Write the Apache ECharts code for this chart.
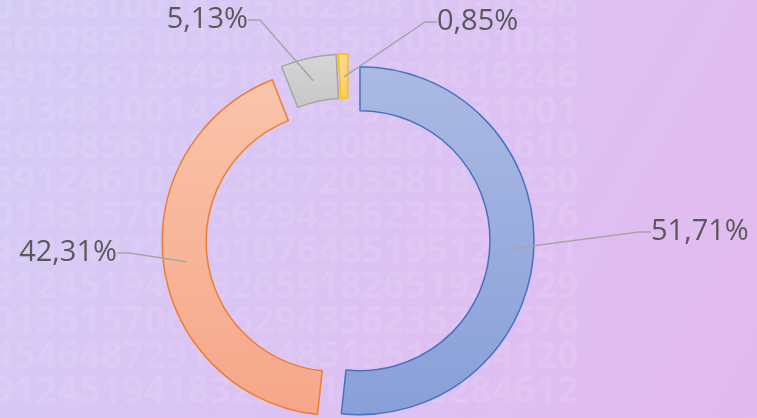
<!DOCTYPE html>
<html>
<head>
<meta charset="utf-8">
<script src="https://cdn.jsdelivr.net/npm/echarts@6/dist/echarts.min.js"></script>
<style>
  html, body { margin: 0; padding: 0; }
  #chart { width: 757px; height: 418px; }
</style>
</head>
<body>
<div id="chart"></div>
<script>
// slice shares, clockwise from 12 o'clock
const names = ["Série A", "Série B", "Série C", "Série D"];
const shares = [51.71, 42.31, 5.13, 0.85];
const fills = [
  ["#abbae3", "#889fd8"],
  ["#f9c4ab", "#f6a688"],
  ["#d6d6d6", "#c6c6c6"],
  ["#ffdc92", "#ffcd66"]
];
const borders = ["#4472c4", "#ed7d31", "#a5a5a5", "#ffc000"];
// where each percentage label sits: [x, y, align]
const labelPos = [
  [651, 232, "left"],
  [117, 253, "right"],
  [248, 20, "right"],
  [437, 22, "left"]
];

// faint digit texture behind the chart
const digitRows = [
  "013481001412586234810138596",
  "560385610356103856103561083",
  "591246128491824691824619246",
  "013481001414238659784531001",
  "560385610561385608561035610",
  "591246107023857203581835230",
  "013515702356294356235239576",
  "454648729101076485195120841",
  "912451941832659182651926129",
  "013515706356294356235239576",
  "454648729107648519512084120",
  "912451941832846129846284612"
];

const chart = echarts.init(document.getElementById("chart"));

const fmt = (v) => v.toFixed(2).replace(".", ",") + "%";

const pieBase = {
  type: "pie",
  center: [348, 240],
  startAngle: 90,
  clockwise: true,
  avoidLabelOverlap: false,
  emphasis: { disabled: true }
};

chart.setOption({
  backgroundColor: new echarts.graphic.LinearGradient(0, 0, 1, 1, [
    { offset: 0, color: "#d4ccf6" },
    { offset: 1, color: "#e3b9ef" }
  ]),
  animation: false,
  graphic: digitRows.map((row, i) => ({
    type: "text",
    left: -8,
    top: i * 35 - 12,
    silent: true,
    z: -10,
    style: {
      text: row,
      font: "bold 38px 'Open Sans'",
      fill: "rgba(255,255,255,0.10)"
    }
  })),
  series: [
    {
      ...pieBase,
      radius: [130, 174],
      selectedMode: "multiple",
      selectedOffset: 12,
      label: { show: false },
      labelLine: { show: false },
      data: shares.map((v, i) => ({
        name: names[i],
        value: v,
        selected: true,
        itemStyle: {
          color: new echarts.graphic.LinearGradient(0, 0, 0, 1, [
            { offset: 0, color: fills[i][0] },
            { offset: 1, color: fills[i][1] }
          ]),
          borderColor: borders[i],
          borderWidth: 1.5
        }
      }))
    },
    {
      // invisible ring reaching the middle of the exploded band, only for the labels
      ...pieBase,
      radius: [130, 163],
      silent: true,
      z: 5,
      itemStyle: { color: "transparent", borderWidth: 0 },
      data: shares.map((v, i) => ({ name: names[i], value: v })),
      label: {
        show: true,
        position: "outside",
        formatter: (p) => fmt(p.value),
        color: "#595959",
        fontSize: 29,
        fontFamily: "Open Sans"
      },
      labelLine: {
        show: true,
        length: 20,
        length2: 12,
        lineStyle: { color: "#a6a6a6", width: 1.5 }
      },
      labelLayout: (params) => {
        const p = labelPos[params.dataIndex];
        return { x: p[0], y: p[1], align: p[2], verticalAlign: "middle" };
      }
    }
  ]
});
</script>
</body>
</html>
